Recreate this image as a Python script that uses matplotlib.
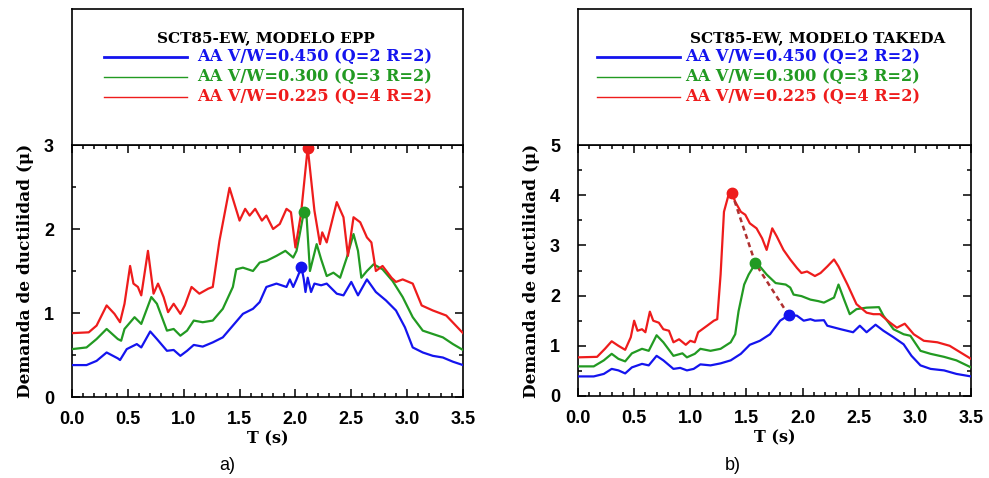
"""
Ductility demand spectra, SCT85-EW record, EPP and Takeda models.
"""

import matplotlib
matplotlib.use("Agg")
import matplotlib.pyplot as plt
from matplotlib.ticker import MultipleLocator


# ------------------------------------------------------
# Data
# ------------------------------------------------------

LABELS = [
    "AA V/W=0.450 (Q=2 R=2)",
    "AA V/W=0.300 (Q=3 R=2)",
    "AA V/W=0.225 (Q=4 R=2)",
]

# EPP model
t_epp_blue = [0.00, 0.13, 0.22, 0.31, 0.41, 0.43, 0.49, 0.58, 0.62, 0.70, 0.76, 0.85,
              0.91, 0.97, 1.03, 1.09, 1.17, 1.26, 1.35, 1.44, 1.53, 1.62, 1.68, 1.74,
              1.83, 1.92, 1.95, 1.98, 2.01, 2.04, 2.054, 2.075, 2.09, 2.11, 2.14, 2.17,
              2.23, 2.28, 2.37, 2.43, 2.50, 2.56, 2.64, 2.72, 2.81, 2.90, 2.98, 3.05,
              3.14, 3.23, 3.32, 3.41, 3.50]
mu_epp_blue = [0.38, 0.38, 0.43, 0.53, 0.46, 0.44, 0.57, 0.63, 0.59, 0.78, 0.69, 0.55,
               0.56, 0.49, 0.55, 0.62, 0.60, 0.65, 0.71, 0.85, 0.99, 1.05, 1.13, 1.31,
               1.35, 1.31, 1.40, 1.31, 1.40, 1.50, 1.55, 1.40, 1.25, 1.42, 1.25, 1.35,
               1.33, 1.35, 1.23, 1.21, 1.37, 1.21, 1.40, 1.25, 1.15, 1.03, 0.83, 0.59,
               0.53, 0.49, 0.47, 0.42, 0.38]

t_epp_green = [0.00, 0.13, 0.22, 0.31, 0.41, 0.44, 0.47, 0.56, 0.62, 0.71, 0.76, 0.85,
               0.91, 0.97, 1.03, 1.09, 1.17, 1.26, 1.35, 1.44, 1.47, 1.53, 1.62, 1.68,
               1.74, 1.83, 1.91, 1.98, 2.01, 2.05, 2.075, 2.10, 2.13, 2.19, 2.23, 2.28,
               2.34, 2.40, 2.46, 2.52, 2.56, 2.59, 2.64, 2.70, 2.78, 2.87, 2.96, 3.05,
               3.14, 3.23, 3.32, 3.41, 3.50]
mu_epp_green = [0.57, 0.59, 0.69, 0.81, 0.69, 0.67, 0.81, 0.95, 0.87, 1.19, 1.11, 0.79,
                0.81, 0.73, 0.79, 0.91, 0.89, 0.91, 1.05, 1.31, 1.52, 1.54, 1.50, 1.60,
                1.62, 1.68, 1.74, 1.66, 1.74, 2.02, 2.20, 2.14, 1.50, 1.82, 1.64, 1.44,
                1.48, 1.42, 1.66, 1.94, 1.74, 1.42, 1.50, 1.58, 1.52, 1.38, 1.19, 0.95,
                0.79, 0.75, 0.71, 0.63, 0.56]

t_epp_red = [0.00, 0.15, 0.22, 0.31, 0.38, 0.43, 0.47, 0.52, 0.55, 0.59, 0.62, 0.68,
             0.73, 0.77, 0.82, 0.86, 0.91, 0.97, 1.01, 1.07, 1.14, 1.22, 1.26, 1.32,
             1.41, 1.50, 1.55, 1.59, 1.64, 1.70, 1.74, 1.80, 1.86, 1.92, 1.96, 2.00,
             2.05, 2.11, 2.17, 2.22, 2.24, 2.28, 2.37, 2.43, 2.47, 2.52, 2.58, 2.64,
             2.68, 2.72, 2.78, 2.86, 2.90, 2.96, 3.05, 3.13, 3.23, 3.35, 3.50]
mu_epp_red = [0.76, 0.77, 0.85, 1.09, 0.99, 0.89, 1.11, 1.56, 1.35, 1.31, 1.21, 1.74,
              1.23, 1.35, 1.19, 1.01, 1.11, 0.99, 1.09, 1.31, 1.23, 1.29, 1.31, 1.86,
              2.49, 2.10, 2.24, 2.16, 2.24, 2.10, 2.16, 2.00, 2.06, 2.24, 2.20, 1.78,
              2.18, 2.97, 2.22, 1.82, 1.96, 1.84, 2.32, 2.14, 1.68, 2.14, 2.08, 1.90,
              1.84, 1.50, 1.56, 1.42, 1.37, 1.40, 1.35, 1.09, 1.03, 0.97, 0.76]

# Takeda model
t_tak_blue = [0.00, 0.14, 0.23, 0.30, 0.36, 0.42, 0.48, 0.57, 0.63, 0.70, 0.76, 0.85,
              0.91, 0.97, 1.03, 1.09, 1.18, 1.27, 1.36, 1.45, 1.53, 1.62, 1.71, 1.80,
              1.876, 1.95, 2.01, 2.07, 2.11, 2.19, 2.22, 2.34, 2.45, 2.51, 2.57, 2.65,
              2.72, 2.81, 2.90, 2.97, 3.05, 3.14, 3.26, 3.37, 3.50]
mu_tak_blue = [0.39, 0.39, 0.44, 0.54, 0.51, 0.45, 0.57, 0.64, 0.61, 0.80, 0.71, 0.54,
               0.56, 0.51, 0.54, 0.63, 0.61, 0.65, 0.71, 0.84, 1.02, 1.10, 1.23, 1.50,
               1.61, 1.60, 1.50, 1.53, 1.50, 1.51, 1.40, 1.33, 1.27, 1.40, 1.27, 1.42,
               1.30, 1.17, 1.03, 0.80, 0.61, 0.54, 0.51, 0.44, 0.39]

t_tak_green = [0.00, 0.14, 0.23, 0.30, 0.36, 0.42, 0.48, 0.57, 0.63, 0.70, 0.76, 0.85,
               0.93, 0.97, 1.04, 1.09, 1.18, 1.27, 1.36, 1.40, 1.43, 1.48, 1.52, 1.58,
               1.62, 1.68, 1.76, 1.85, 1.89, 1.92, 1.99, 2.07, 2.14, 2.19, 2.28, 2.32,
               2.37, 2.42, 2.48, 2.57, 2.68, 2.72, 2.81, 2.90, 2.96, 3.05, 3.14, 3.26,
               3.37, 3.50]
mu_tak_green = [0.59, 0.59, 0.71, 0.84, 0.74, 0.69, 0.85, 0.94, 0.90, 1.21, 1.07, 0.80,
                0.85, 0.77, 0.84, 0.94, 0.90, 0.94, 1.07, 1.23, 1.69, 2.22, 2.42, 2.64,
                2.58, 2.42, 2.25, 2.22, 2.16, 2.02, 1.99, 1.92, 1.89, 1.86, 1.96, 2.22,
                1.92, 1.63, 1.73, 1.76, 1.77, 1.60, 1.33, 1.23, 1.20, 0.90, 0.84, 0.78,
                0.71, 0.57]

t_tak_red = [0.00, 0.17, 0.24, 0.30, 0.36, 0.42, 0.47, 0.50, 0.53, 0.57, 0.60, 0.64,
             0.67, 0.72, 0.76, 0.81, 0.85, 0.90, 0.96, 1.00, 1.04, 1.07, 1.15, 1.21,
             1.24, 1.27, 1.30, 1.34, 1.37, 1.40, 1.45, 1.49, 1.53, 1.59, 1.64, 1.68,
             1.73, 1.77, 1.83, 1.89, 1.95, 1.99, 2.04, 2.11, 2.16, 2.22, 2.28, 2.32,
             2.40, 2.48, 2.57, 2.63, 2.69, 2.78, 2.84, 2.91, 2.99, 3.08, 3.20, 3.31,
             3.50]
mu_tak_red = [0.77, 0.78, 0.94, 1.09, 1.00, 0.92, 1.17, 1.50, 1.30, 1.33, 1.27, 1.68,
              1.50, 1.46, 1.33, 1.30, 1.07, 1.13, 1.02, 1.10, 1.07, 1.27, 1.40, 1.50,
              1.53, 2.42, 3.67, 4.00, 4.05, 3.87, 3.67, 3.61, 3.44, 3.34, 3.14, 2.91,
              3.34, 3.18, 2.91, 2.72, 2.55, 2.45, 2.48, 2.39, 2.45, 2.58, 2.72, 2.58,
              2.22, 1.83, 1.66, 1.63, 1.63, 1.46, 1.36, 1.44, 1.23, 1.10, 1.07, 1.00,
              0.74]


# ------------------------------------------------------
# Styles
# ------------------------------------------------------

COLORS = ["#1414ee", "#229a22", "#ee1c1c"]
LEGEND_WIDTHS = [2.0, 1.0, 1.0]

SERIF = "DejaVu Serif"
SANS = "Liberation Sans"

W, H = 989, 478


def fig_box(x0, y0, x1, y1):

    # pixel box -> figure fraction rect
    return [x0 / W, 1 - y1 / H, (x1 - x0) / W, (y1 - y0) / H]


# ------------------------------------------------------
# Panels
# ------------------------------------------------------

def draw_panel(fig, box, ymax, series, title, title_x, line_x, text_x,
               panel_label, label_x, link_peaks=False):

    x0, y_top, x1, y_sep, y_bot = box

    ax = fig.add_axes(fig_box(x0, y_sep, x1, y_bot))
    leg = fig.add_axes(fig_box(x0, y_top, x1, y_sep))

    peaks = []

    for (t, mu), color in zip(series, COLORS):

        ax.plot(t, mu, color=color, lw=1.6, zorder=3)

        i = mu.index(max(mu))
        peaks.append((t[i], mu[i]))

    if link_peaks:

        ax.plot(
            [p[0] for p in peaks],
            [p[1] for p in peaks],
            color="#b03030",
            lw=1.8,
            ls=(0, (2, 1.5)),
            zorder=4
        )

    for (tp, mp), color in zip(peaks, COLORS):

        ax.plot(tp, mp, "o", color=color, ms=7.5, zorder=5, clip_on=False)

    ax.set_xlim(0, 3.5)
    ax.set_ylim(0, ymax)

    ax.xaxis.set_major_locator(MultipleLocator(0.5))
    ax.xaxis.set_minor_locator(MultipleLocator(0.1))
    ax.yaxis.set_major_locator(MultipleLocator(1))
    ax.yaxis.set_minor_locator(MultipleLocator(0.5))

    ax.tick_params(which="both", direction="in", top=True, right=True,
                   width=1.1, color="black")
    ax.tick_params(which="major", length=6)
    ax.tick_params(which="minor", length=3)
    ax.tick_params(axis="x", pad=10)
    ax.tick_params(axis="y", pad=13)

    ax.set_xticks([0, 0.5, 1, 1.5, 2, 2.5, 3, 3.5])
    ax.set_xticklabels(["0.0", "0.5", "1.0", "1.5", "2.0", "2.5", "3.0", "3.5"])

    for lab in ax.get_xticklabels() + ax.get_yticklabels():
        lab.set_fontfamily(SANS)
        lab.set_fontweight("bold")
        lab.set_fontsize(13)

    for sp in ax.spines.values():
        sp.set_linewidth(1.2)

    ax.set_xlabel("T (s)", family=SERIF, weight="bold", fontsize=11.5,
                  labelpad=2)
    ax.set_ylabel("Demanda de ductilidad (\u03bc)", family=SERIF,
                  weight="bold", fontsize=12.2, labelpad=7)

    # legend box above the plot
    leg.set_xlim(x0, x1)
    leg.set_ylim(y_sep, y_top)
    leg.set_xticks([])
    leg.set_yticks([])

    for sp in leg.spines.values():
        sp.set_linewidth(1.2)

    leg.text(title_x, 38, title, family=SERIF, weight="bold", fontsize=11,
             ha="left", va="center")

    for k, (label, color) in enumerate(zip(LABELS, COLORS)):

        y = 57 + 20 * k

        leg.plot(line_x, [y, y], color=color, lw=LEGEND_WIDTHS[k])

        leg.text(text_x, y, label, family=SERIF, weight="bold",
                 fontsize=11.6, color=color, ha="left", va="center")

    fig.text(label_x / W, 1 - 466 / H, panel_label, family=SANS,
             fontsize=13, ha="center", va="center")


# ------------------------------------------------------
# Main
# ------------------------------------------------------

def main():

    fig = plt.figure(figsize=(W / 100, H / 100), dpi=100)

    draw_panel(
        fig,
        (72, 9, 463, 145, 397),
        3,
        [(t_epp_blue, mu_epp_blue),
         (t_epp_green, mu_epp_green),
         (t_epp_red, mu_epp_red)],
        "SCT85-EW, MODELO EPP",
        157,
        [104, 187],
        197,
        "a)",
        227
    )

    draw_panel(
        fig,
        (578, 9, 971, 145, 396),
        5,
        [(t_tak_blue, mu_tak_blue),
         (t_tak_green, mu_tak_green),
         (t_tak_red, mu_tak_red)],
        "SCT85-EW, MODELO TAKEDA",
        690,
        [597, 680],
        685,
        "b)",
        733,
        link_peaks=True
    )

    fig.savefig("out.png", dpi=100)

    plt.close(fig)


if __name__ == "__main__":

    main()
